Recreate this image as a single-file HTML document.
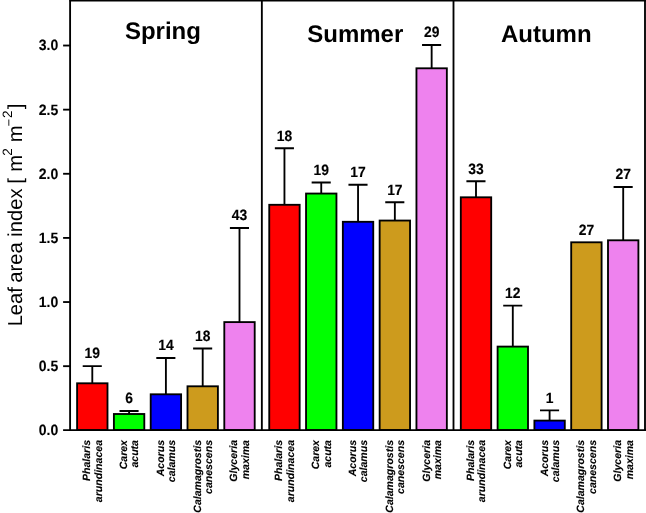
<!DOCTYPE html>
<html><head><meta charset="utf-8"><title>Leaf area index</title>
<style>
html,body{margin:0;padding:0;background:#fff}
svg text{font-family:"Liberation Sans", sans-serif;fill:#000;text-rendering:geometricPrecision}
.n{font-size:14.9px;font-weight:bold;text-anchor:middle;stroke:#000;stroke-width:0.15px}
.t{font-size:14.9px;font-weight:bold;text-anchor:end;stroke:#000;stroke-width:0.1px}
.h{font-size:24px;font-weight:bold;text-anchor:middle}
.x{font-size:10.55px;font-weight:bold;font-style:italic;text-anchor:end;stroke:#000;stroke-width:0.12px}
.y{font-size:20.2px}
</style></head><body>
<svg width="646" height="513" viewBox="0 0 646 513" style="display:block">
<rect width="646" height="513" fill="#fff"/>
<path d="M92.30 383.30V366.10M82.70 366.10H101.80" stroke="#000" stroke-width="1.85" fill="none"/>
<rect x="77.10" y="383.30" width="30.40" height="46.76" fill="#FF0000" stroke="#000" stroke-width="1.85"/>
<text transform="translate(92.30 358.40) scale(0.93 1)" class="n">19</text>
<text transform="translate(90.20 440) rotate(-90)" class="x">Phalaris</text>
<text transform="translate(101.60 440) rotate(-90)" class="x">arundinacea</text>
<path d="M129.10 414.00V411.00M119.50 411.00H138.60" stroke="#000" stroke-width="1.85" fill="none"/>
<rect x="113.90" y="414.00" width="30.40" height="16.06" fill="#00FF00" stroke="#000" stroke-width="1.85"/>
<text transform="translate(129.10 403.30) scale(0.93 1)" class="n">6</text>
<text transform="translate(127.00 440) rotate(-90)" class="x">Carex</text>
<text transform="translate(138.40 440) rotate(-90)" class="x">acuta</text>
<path d="M165.90 394.30V358.00M156.30 358.00H175.40" stroke="#000" stroke-width="1.85" fill="none"/>
<rect x="150.70" y="394.30" width="30.40" height="35.76" fill="#0000FF" stroke="#000" stroke-width="1.85"/>
<text transform="translate(165.90 350.30) scale(0.93 1)" class="n">14</text>
<text transform="translate(163.80 440) rotate(-90)" class="x">Acorus</text>
<text transform="translate(175.20 440) rotate(-90)" class="x">calamus</text>
<path d="M202.70 386.30V348.50M193.10 348.50H212.20" stroke="#000" stroke-width="1.85" fill="none"/>
<rect x="187.50" y="386.30" width="30.40" height="43.76" fill="#CD9B1D" stroke="#000" stroke-width="1.85"/>
<text transform="translate(202.70 340.80) scale(0.93 1)" class="n">18</text>
<text transform="translate(200.60 440) rotate(-90)" class="x">Calamagrostis</text>
<text transform="translate(212.00 440) rotate(-90)" class="x">canescens</text>
<path d="M239.50 322.10V228.00M229.90 228.00H249.00" stroke="#000" stroke-width="1.85" fill="none"/>
<rect x="224.30" y="322.10" width="30.40" height="107.96" fill="#EE82EE" stroke="#000" stroke-width="1.85"/>
<text transform="translate(239.50 220.30) scale(0.93 1)" class="n">43</text>
<text transform="translate(237.40 440) rotate(-90)" class="x">Glyceria</text>
<text transform="translate(248.80 440) rotate(-90)" class="x">maxima</text>
<path d="M284.45 204.80V148.25M274.85 148.25H293.95" stroke="#000" stroke-width="1.85" fill="none"/>
<rect x="269.25" y="204.80" width="30.40" height="225.26" fill="#FF0000" stroke="#000" stroke-width="1.85"/>
<text transform="translate(284.45 140.55) scale(0.93 1)" class="n">18</text>
<text transform="translate(282.35 440) rotate(-90)" class="x">Phalaris</text>
<text transform="translate(293.75 440) rotate(-90)" class="x">arundinacea</text>
<path d="M321.25 193.55V182.50M311.65 182.50H330.75" stroke="#000" stroke-width="1.85" fill="none"/>
<rect x="306.05" y="193.55" width="30.40" height="236.51" fill="#00FF00" stroke="#000" stroke-width="1.85"/>
<text transform="translate(321.25 174.80) scale(0.93 1)" class="n">19</text>
<text transform="translate(319.15 440) rotate(-90)" class="x">Carex</text>
<text transform="translate(330.55 440) rotate(-90)" class="x">acuta</text>
<path d="M358.05 221.80V184.75M348.45 184.75H367.55" stroke="#000" stroke-width="1.85" fill="none"/>
<rect x="342.85" y="221.80" width="30.40" height="208.26" fill="#0000FF" stroke="#000" stroke-width="1.85"/>
<text transform="translate(358.05 177.05) scale(0.93 1)" class="n">17</text>
<text transform="translate(355.95 440) rotate(-90)" class="x">Acorus</text>
<text transform="translate(367.35 440) rotate(-90)" class="x">calamus</text>
<path d="M394.85 220.55V202.25M385.25 202.25H404.35" stroke="#000" stroke-width="1.85" fill="none"/>
<rect x="379.65" y="220.55" width="30.40" height="209.51" fill="#CD9B1D" stroke="#000" stroke-width="1.85"/>
<text transform="translate(394.85 194.55) scale(0.93 1)" class="n">17</text>
<text transform="translate(392.75 440) rotate(-90)" class="x">Calamagrostis</text>
<text transform="translate(404.15 440) rotate(-90)" class="x">canescens</text>
<path d="M431.65 68.30V45.00M422.05 45.00H441.15" stroke="#000" stroke-width="1.85" fill="none"/>
<rect x="416.45" y="68.30" width="30.40" height="361.76" fill="#EE82EE" stroke="#000" stroke-width="1.85"/>
<text transform="translate(431.65 37.30) scale(0.93 1)" class="n">29</text>
<text transform="translate(429.55 440) rotate(-90)" class="x">Glyceria</text>
<text transform="translate(440.95 440) rotate(-90)" class="x">maxima</text>
<path d="M476.00 197.30V181.20M466.40 181.20H485.50" stroke="#000" stroke-width="1.85" fill="none"/>
<rect x="460.80" y="197.30" width="30.40" height="232.76" fill="#FF0000" stroke="#000" stroke-width="1.85"/>
<text transform="translate(476.00 173.50) scale(0.93 1)" class="n">33</text>
<text transform="translate(473.90 440) rotate(-90)" class="x">Phalaris</text>
<text transform="translate(485.30 440) rotate(-90)" class="x">arundinacea</text>
<path d="M512.80 346.60V305.60M503.20 305.60H522.30" stroke="#000" stroke-width="1.85" fill="none"/>
<rect x="497.60" y="346.60" width="30.40" height="83.46" fill="#00FF00" stroke="#000" stroke-width="1.85"/>
<text transform="translate(512.80 297.90) scale(0.93 1)" class="n">12</text>
<text transform="translate(510.70 440) rotate(-90)" class="x">Carex</text>
<text transform="translate(522.10 440) rotate(-90)" class="x">acuta</text>
<path d="M549.60 420.60V410.40M540.00 410.40H559.10" stroke="#000" stroke-width="1.85" fill="none"/>
<rect x="534.40" y="420.60" width="30.40" height="9.46" fill="#0000FF" stroke="#000" stroke-width="1.85"/>
<text transform="translate(549.60 402.70) scale(0.93 1)" class="n">1</text>
<text transform="translate(547.50 440) rotate(-90)" class="x">Acorus</text>
<text transform="translate(558.90 440) rotate(-90)" class="x">calamus</text>
<rect x="571.20" y="242.30" width="30.40" height="187.76" fill="#CD9B1D" stroke="#000" stroke-width="1.85"/>
<text transform="translate(586.40 234.60) scale(0.93 1)" class="n">27</text>
<text transform="translate(584.30 440) rotate(-90)" class="x">Calamagrostis</text>
<text transform="translate(595.70 440) rotate(-90)" class="x">canescens</text>
<path d="M623.20 240.30V187.00M613.60 187.00H632.70" stroke="#000" stroke-width="1.85" fill="none"/>
<rect x="608.00" y="240.30" width="30.40" height="189.76" fill="#EE82EE" stroke="#000" stroke-width="1.85"/>
<text transform="translate(623.20 179.30) scale(0.93 1)" class="n">27</text>
<text transform="translate(621.10 440) rotate(-90)" class="x">Glyceria</text>
<text transform="translate(632.50 440) rotate(-90)" class="x">maxima</text>
<path d="M70.1 0V431.06M261.85 0V430.06M453.5 0V430.06M645.0 0V431.06M69.1 0.45H646M63.1 430.06H646" stroke="#000" stroke-width="1.85" fill="none"/>
<path d="M63.1 366.17H70.1" stroke="#000" stroke-width="1.85"/>
<path d="M63.1 302.04H70.1" stroke="#000" stroke-width="1.85"/>
<path d="M63.1 237.91H70.1" stroke="#000" stroke-width="1.85"/>
<path d="M63.1 173.78H70.1" stroke="#000" stroke-width="1.85"/>
<path d="M63.1 109.65H70.1" stroke="#000" stroke-width="1.85"/>
<path d="M63.1 45.52H70.1" stroke="#000" stroke-width="1.85"/>
<text transform="translate(58.3 435.20) scale(0.94 1)" class="t">0.0</text>
<text transform="translate(58.3 371.07) scale(0.94 1)" class="t">0.5</text>
<text transform="translate(58.3 306.94) scale(0.94 1)" class="t">1.0</text>
<text transform="translate(58.3 242.81) scale(0.94 1)" class="t">1.5</text>
<text transform="translate(58.3 178.68) scale(0.94 1)" class="t">2.0</text>
<text transform="translate(58.3 114.55) scale(0.94 1)" class="t">2.5</text>
<text transform="translate(58.3 50.42) scale(0.94 1)" class="t">3.0</text>
<text x="162.9" y="39.4" class="h">Spring</text>
<text x="355.25" y="41.55" class="h">Summer</text>
<text x="546.25" y="41.55" class="h">Autumn</text>
<text transform="translate(21.7 326.2) rotate(-90)" class="y"><tspan dx="0 -0.2 0 0 -1.2">Leaf area index</tspan><tspan dx="-0.9"> [</tspan><tspan dx="0.6"> m</tspan><tspan dy="-10" dx="-0.75" font-size="13.5">2</tspan><tspan dy="10" dx="0.4"> m</tspan><tspan dy="-8.5" dx="-0.8" font-size="12.5">−</tspan><tspan dy="-1.5" dx="0.9" font-size="13.5">2</tspan><tspan dy="10" dx="1.3">]</tspan></text>
</svg>
</body></html>
